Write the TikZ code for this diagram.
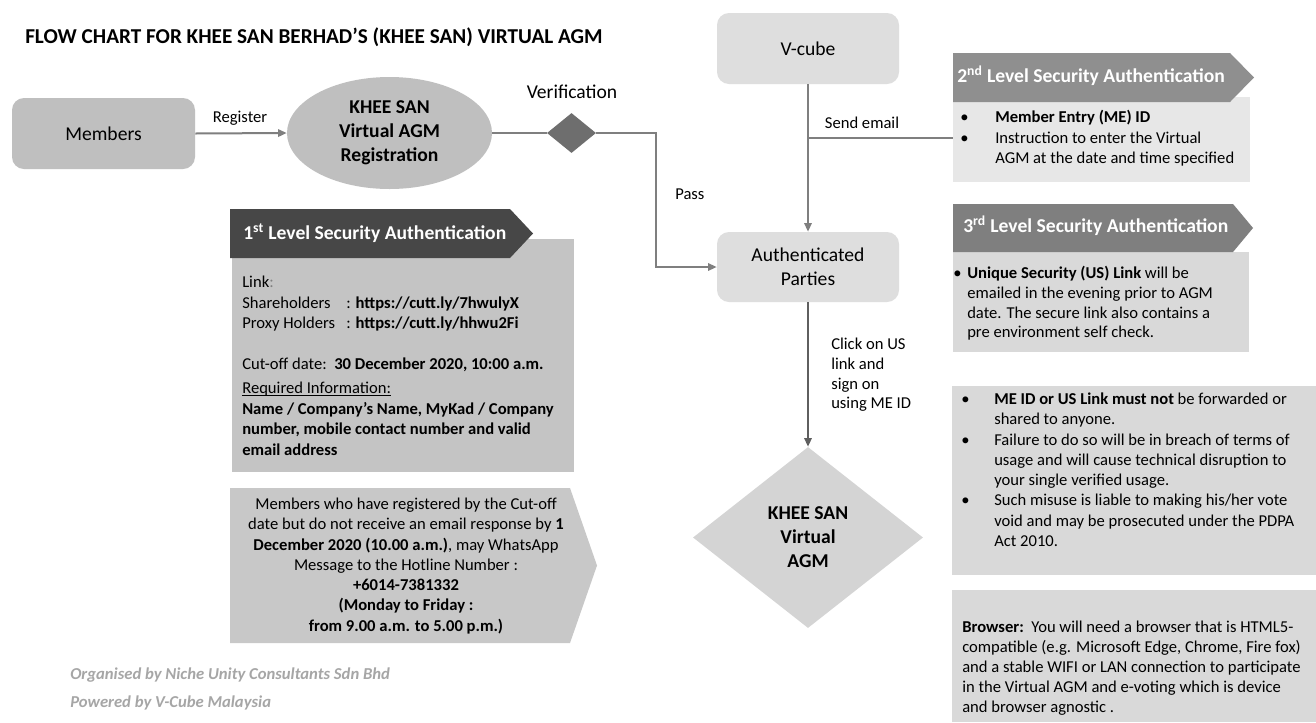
\documentclass[tikz,border=0pt]{standalone}
\usepackage{fontspec}
\setmainfont{Carlito}
\usetikzlibrary{shapes.geometric,arrows.meta}
\definecolor{cmem}{HTML}{BFBFBF}
\definecolor{clight}{HTML}{DEDEDE}
\definecolor{csd}{HTML}{6E6E6E}
\definecolor{lineg}{HTML}{7F7F7F}
\definecolor{cdark}{HTML}{5F5F5F}
\definecolor{ch1}{HTML}{474747}
\definecolor{cb1}{HTML}{C4C4C4}
\definecolor{ccall}{HTML}{C8C8C8}
\definecolor{ch2}{HTML}{8F8F8F}
\definecolor{cb2}{HTML}{E7E7E7}
\definecolor{ch3}{HTML}{7F7F7F}
\definecolor{cb3}{HTML}{D9D9D9}
\definecolor{cbig}{HTML}{D4D4D4}
\definecolor{cfoot}{HTML}{A6A6A6}
\newcommand\pxu{0.75pt}
\newcommand\leftlines[1]{\vtop{\halign{##\hfil\cr#1\crcr}}}
\newcommand\ctrlines[1]{\vtop{\halign{\hfil##\hfil\cr#1\crcr}}}
\newcommand\bul[1]{\makebox[#1][l]{•}}
\newcommand\myul[1]{\setbox0=\hbox{#1}\rlap{\rule[-1.6pt]{\wd0}{0.55pt}}\box0}
\begin{document}
\begin{tikzpicture}[x=0.75pt,y=-0.75pt,
  mainfont/.style={font=\fontsize{14.7}{18}\selectfont},
  mainbold/.style={font=\fontsize{14.7}{18}\selectfont\bfseries},
  smallfont/.style={font=\fontsize{12.45}{15.2}\selectfont},
  conn/.style={draw=lineg, line width=1.5pt},
  arr/.style={-{Triangle[length=6.5pt,width=5.5pt]}},
  rbox/.style={rectangle, rounded corners=9pt, inner sep=0pt, align=center, mainfont},
  txt/.style={inner sep=0pt, anchor=base west},
  panel/.style={rectangle, inner sep=0pt, anchor=north west},
  headtxt/.style={txt, mainbold, text=white},
  foottxt/.style={txt, font=\fontsize{12.5}{15}\selectfont\bfseries\itshape, text=cfoot}]
\fill[white] (0,0) rectangle (1316,722);
\useasboundingbox (0,0) rectangle (1316,722);

% title
\node[txt, font=\fontsize{15.9}{19}\selectfont\bfseries] (title) at (25,43) {FLOW CHART FOR KHEE SAN BERHAD’S (KHEE SAN) VIRTUAL AGM};

% main flow nodes
\node[rbox, fill=cmem, minimum width=183*\pxu, minimum height=71*\pxu] (members) at (103.5,133.5) {Members};
\node[ellipse, fill=cmem, minimum width=205*\pxu, minimum height=112*\pxu, inner sep=0pt, align=center, mainbold] (reg) at (389.5,133) {KHEE SAN\\Virtual AGM\\Registration};
\node[diamond, fill=csd, minimum width=49*\pxu, minimum height=40*\pxu, inner sep=0pt] (sd) at (571.5,133) {};
\node[mainfont, inner sep=0pt] (verlab) at (572,92) {Verification};
\node[smallfont, inner sep=0pt] (reglab) at (240,118) {Register};
\node[rbox, fill=clight, minimum width=182*\pxu, minimum height=71*\pxu] (vcube) at (808,48.5) {V-cube};
\node[rbox, fill=clight, minimum width=182*\pxu, minimum height=70*\pxu] (auth) at (808,267) {Authenticated\\Parties};
\node[diamond, fill=cbig, minimum width=230*\pxu, minimum height=181*\pxu, inner sep=0pt, align=center, mainbold] (bigd) at (808,537.5) {KHEE SAN\\Virtual\\AGM};

% 1st level
\node[panel, fill=cb1, minimum width=342*\pxu, minimum height=233*\pxu] (b1) at (232,239) {};
\path[fill=ch1] (230,209) -- (510,209) -- (533,233.5) -- (510,258) -- (230,258) -- cycle;
\node[headtxt] (h1) at (243,239.5) {1\textsuperscript{st} Level Security Authentication};
\node[txt, font=\fontsize{12.45}{15.45}\selectfont] (t1a) at (242,287.6) {\leftlines{Link{\color{gray}:}\cr
\makebox[78pt][l]{Shareholders}: \textbf{https://cutt.ly/7hwulyX}\cr
\makebox[78pt][l]{Proxy Holders}: \textbf{https://cutt.ly/hhwu2Fi}}};
\node[txt, smallfont] (t1b) at (242,369.6) {Cut-off date:\ \ \textbf{30 December 2020, 10:00 a.m.}};
\node[txt, font=\fontsize{12.45}{15.45}\selectfont] (t1c) at (242,393.6) {\leftlines{\myul{Required Information:}\cr
\textbf{Name / Company’s Name, MyKad / Company}\cr
\textbf{number, mobile contact number and valid}\cr
\textbf{email address}}};

% callout
\path[fill=ccall] (230,488) -- (570,488) -- (597,565.5) -- (570,643) -- (230,643) -- cycle;
\node[inner sep=0pt, anchor=base, smallfont] (calltext) at (406,509.6) {\ctrlines{Members who have registered by the Cut-off\cr
date but do not receive an email response by \textbf{1}\cr
\textbf{December 2020 (10.00 a.m.)}, may WhatsApp\cr
Message to the Hotline Number :\cr
\textbf{+6014-7381332}\cr
\textbf{(Monday to Friday :}\cr
\textbf{from 9.00 a.m. to 5.00 p.m.)}}};

% 2nd level
\node[panel, fill=cb2, minimum width=297*\pxu, minimum height=85*\pxu] (b2) at (953,97) {};
\path[fill=ch2] (953,53) -- (1230,53) -- (1254,77.5) -- (1230,102) -- (953,102) -- cycle;
\node[headtxt] (h2) at (957,82.5) {2\textsuperscript{nd} Level Security Authentication};
\node[txt, font=\fontsize{12.45}{15.4}\selectfont] (t2) at (960,122.6) {\leftlines{\bul{26.25pt}\textbf{Member Entry (ME) ID}\cr
\bul{26.25pt}Instruction to enter the Virtual\cr
\hspace*{26.25pt}AGM at the date and time specified}};

% 3rd level
\node[panel, fill=cb3, minimum width=296*\pxu, minimum height=100*\pxu] (b3) at (953,252) {};
\path[fill=ch3] (953,204) -- (1233,204) -- (1253,228) -- (1233,252) -- (953,252) -- cycle;
\node[headtxt] (h3) at (963,232.5) {3\textsuperscript{rd} Level Security Authentication};
\node[txt, font=\fontsize{12.45}{14.8}\selectfont] (t3) at (953,278.6) {\leftlines{\bul{10.5pt}\textbf{Unique Security (US) Link} will be\cr
\hspace*{10.5pt}emailed in the evening prior to AGM\cr
\hspace*{10.5pt}date. The secure link also contains a\cr
\hspace*{10.5pt}pre environment self check.}};

% warning box
\node[panel, fill=cb3, minimum width=364*\pxu, minimum height=189*\pxu] (warn) at (952,386) {};
\node[txt, font=\fontsize{12.45}{15.2}\selectfont] (twarn) at (961,404.6) {\leftlines{\bul{24.75pt}\textbf{ME ID or US Link must not} be forwarded or\cr
\hspace*{24.75pt}shared to anyone.\cr
\bul{24.75pt}Failure to do so will be in breach of terms of\cr
\hspace*{24.75pt}usage and will cause technical disruption to\cr
\hspace*{24.75pt}your single verified usage.\cr
\bul{24.75pt}Such misuse is liable to making his/her vote\cr
\hspace*{24.75pt}void and may be prosecuted under the PDPA\cr
\hspace*{24.75pt}Act 2010.}};

% browser box
\node[panel, fill=cb3, minimum width=364*\pxu, minimum height=132*\pxu] (brow) at (952,590) {};
\node[txt, font=\fontsize{12.45}{15}\selectfont] (tbrow) at (962,632.6) {\leftlines{\textbf{Browser:}\ \ You will need a browser that is HTML5-\cr
compatible (e.g. Microsoft Edge, Chrome, Fire fox)\cr
and a stable WIFI or LAN connection to participate\cr
in the Virtual AGM and e-voting which is device\cr
and browser agnostic .}};

% connectors
\draw[conn,arr] (members.east) -- (reg.west);
\draw[conn] (reg.east) -- (sd.west);
\coordinate (passturn) at (656,133);
\draw[conn,arr] (sd.east) -- (passturn) |- (auth.west);
\draw[conn,arr] (vcube.south) -- (auth.north);
\coordinate (branch) at (808,138);
\draw[conn] (branch) -- (branch -| b2.west);
\draw[conn,arr,draw=cdark] (auth.south) -- (bigd.north);

% labels
\node[smallfont, inner sep=0pt, anchor=west] (passlab) at (675,194) {Pass};
\node[smallfont, inner sep=0pt] (sendlab) at (862,123) {Send email};
\node[txt, font=\fontsize{12.45}{14.8}\selectfont] (clicklab) at (831,349.6) {\leftlines{Click on US\cr link and\cr sign on\cr using ME ID}};

% footer
\node[foottxt] (foot1) at (70,679.6) {Organised by Niche Unity Consultants Sdn Bhd};
\node[foottxt] (foot2) at (70,707.6) {Powered by V-Cube Malaysia};
\end{tikzpicture}
\end{document}
